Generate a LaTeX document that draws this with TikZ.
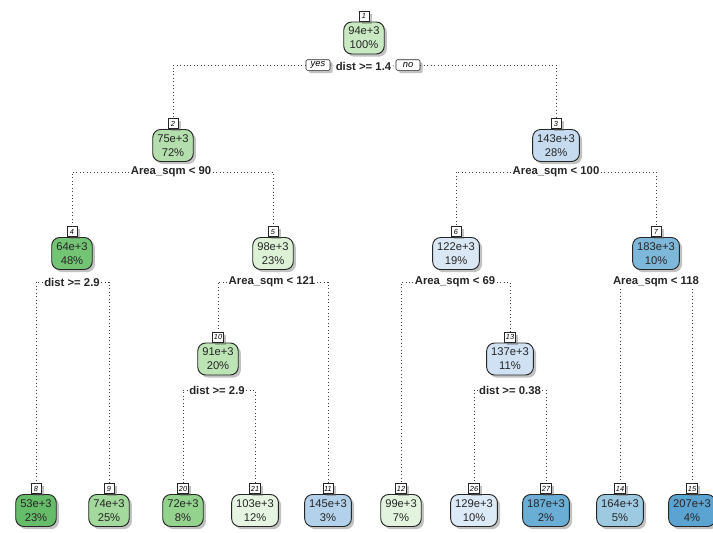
\documentclass[tikz,border=0pt]{standalone}
\usepackage{fontspec}
\setmainfont{Liberation Sans}
\usetikzlibrary{positioning,shadows}
\definecolor{C1}{HTML}{C8E9C1}
\definecolor{C2}{HTML}{B4DEAD}
\definecolor{C3}{HTML}{C6DBEF}
\definecolor{C4}{HTML}{74C476}
\definecolor{C5}{HTML}{DCF1D6}
\definecolor{C6}{HTML}{DAE8F5}
\definecolor{C7}{HTML}{7DB8DA}
\definecolor{C10}{HTML}{BCE4B5}
\definecolor{C13}{HTML}{CFE1F2}
\definecolor{C8}{HTML}{66BD69}
\definecolor{C9}{HTML}{A3D99C}
\definecolor{C20}{HTML}{93D38E}
\definecolor{C21}{HTML}{E6F5E1}
\definecolor{C11}{HTML}{B3D1EA}
\definecolor{C12}{HTML}{E2F4DD}
\definecolor{C26}{HTML}{DCE9F6}
\definecolor{C27}{HTML}{6AAED6}
\definecolor{C14}{HTML}{9DC9E1}
\definecolor{C15}{HTML}{5BA3D0}
\tikzset{
    SH/.style ={drop shadow={shadow xshift=2pt, shadow yshift=-2pt, fill=black!60, opacity=0.4}},
    ND/.style ={rectangle, rounded corners=6pt, draw=black!85, line width=0.7pt, minimum height=24pt, inner xsep=3.4pt, inner ysep=1pt, align=center, text=black!85, font=\fontsize{8.4}{10.5}\selectfont, SH},
    NB/.style ={rectangle, draw=black!85, line width=0.5pt, fill=white, minimum width=7.5pt, minimum height=7.5pt, inner sep=1pt, font=\fontsize{5.5}{6}\selectfont\itshape, SH},
    SP/.style ={inner sep=1pt, text=black!85, font=\fontsize{8.5}{10}\selectfont\bfseries},
    YN/.style ={rectangle, rounded corners=1pt, draw=black!85, line width=0.5pt, fill=white, minimum width=18pt, minimum height=8pt, inner xsep=2pt, inner ysep=1pt, font=\fontsize{7}{8}\selectfont\itshape, SH},
    LN/.style ={dotted, line width=0.6pt, black!75}}
\begin{document}
\begin{tikzpicture}[x=0.75pt,y=-0.75pt]
        \useasboundingbox (0,0) rectangle (713,532);
        % inner nodes
        \node[ND, fill=C1] (1) at(364,38){94e+3\\100\%};
        \node[ND, fill=C2] (2) at(173,145.5){75e+3\\72\%};
        \node[ND, fill=C3] (3) at(556,145.5){143e+3\\28\%};
        \node[ND, fill=C4] (4) at(72,253.5){64e+3\\48\%};
        \node[ND, fill=C5] (5) at(273,253.5){98e+3\\23\%};
        \node[ND, fill=C6] (6) at(456,253.5){122e+3\\19\%};
        \node[ND, fill=C7] (7) at(656,253.5){183e+3\\10\%};
        \node[ND, fill=C10] (10) at(218,359){91e+3\\20\%};
        \node[ND, fill=C13] (13) at(510,359){137e+3\\11\%};
        % leaves
        \node[ND, fill=C8] (8) at(36,510.5){53e+3\\23\%};
        \node[ND, fill=C9] (9) at(109,510.5){74e+3\\25\%};
        \node[ND, fill=C20] (20) at(183,510.5){72e+3\\8\%};
        \node[ND, fill=C21] (21) at(255,510.5){103e+3\\12\%};
        \node[ND, fill=C11] (11) at(328,510.5){145e+3\\3\%};
        \node[ND, fill=C12] (12) at(401,510.5){99e+3\\7\%};
        \node[ND, fill=C26] (26) at(474,510.5){129e+3\\10\%};
        \node[ND, fill=C27] (27) at(546,510.5){187e+3\\2\%};
        \node[ND, fill=C14] (14) at(620,510.5){164e+3\\5\%};
        \node[ND, fill=C15] (15) at(692,510.5){207e+3\\4\%};
        % node numbers
        \foreach \n in {1,2,3,4,5,6,7,10,13,8,9,20,21,11,12,26,27,14,15}
            \node[NB, above=0pt of \n] (L\n) {\n};
        % split labels
        \node[SP] (S1) at(363.5,66){dist >= 1.4};
        \node[YN] (Y) at(318,65){yes};
        \node[YN] (N) at(408,65){no};
        \node[SP] (S2) at(171,172){Area\_sqm < 90};
        \node[SP] (S3) at(556,172){Area\_sqm < 100};
        \node[SP] (S4) at(72,282){dist >= 2.9};
        \node[SP] (S5) at(272,282){Area\_sqm < 121};
        \node[SP] (S6) at(455,282){Area\_sqm < 69};
        \node[SP] (S7) at(656,282){Area\_sqm < 118};
        \node[SP] (S10) at(217,390){dist >= 2.9};
        \node[SP] (S13) at(510,390){dist >= 0.38};
        % connectors
        \draw[LN] (Y.west) -| (L2.north);
        \draw[LN] (Y.east) -- (S1.west);
        \draw[LN] (S1.east) -- (N.west);
        \draw[LN] (N.east) -| (L3.north);
        \draw[LN] (S2.west) -| (L4.north);
        \draw[LN] (S2.east) -| (L5.north);
        \draw[LN] (S3.west) -| (L6.north);
        \draw[LN] (S3.east) -| (L7.north);
        \draw[LN] (S4.west) -| (L8.north);
        \draw[LN] (S4.east) -| (L9.north);
        \draw[LN] (S5.west) -| (L10.north);
        \draw[LN] (S5.east) -| (L11.north);
        \draw[LN] (S6.west) -| (L12.north);
        \draw[LN] (S6.east) -| (L13.north);
        \draw[LN] (S7.south -| L14.north) -- (L14.north);
        \draw[LN] (S7.south -| L15.north) -- (L15.north);
        \draw[LN] (S10.west) -| (L20.north);
        \draw[LN] (S10.east) -| (L21.north);
        \draw[LN] (S13.west) -| (L26.north);
        \draw[LN] (S13.east) -| (L27.north);
    \end{tikzpicture}
\end{document}
